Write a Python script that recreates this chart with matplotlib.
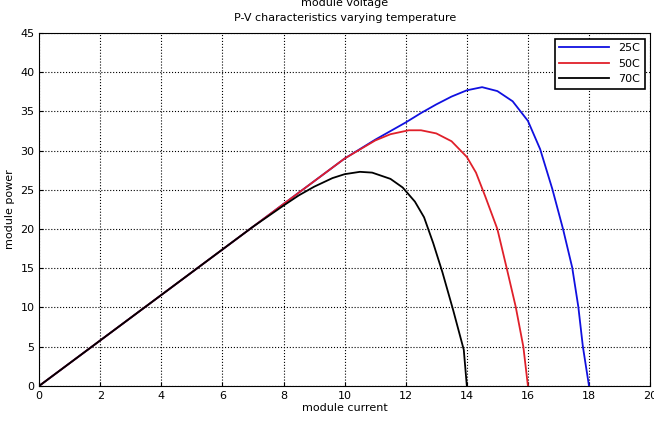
import matplotlib
matplotlib.use("Agg")
import matplotlib.pyplot as plt

# module "current" axis (really voltage) and power for each temperature
V_25C = [0, 2, 4, 6, 8, 10, 10.5, 11, 12, 12.5, 13, 13.5, 14, 14.5, 15,
         15.5, 16, 16.4, 16.8, 17.15, 17.45, 17.65, 17.8, 18.0]
P_25C = [0, 5.8, 11.6, 17.4, 23.2, 29.0, 30.2, 31.4, 33.6, 34.8, 35.9, 36.9,
         37.7, 38.1, 37.6, 36.3, 33.8, 30.2, 25.1, 20.0, 15.1, 10.1, 5.0, 0]

V_50C = [0, 2, 4, 6, 8, 10, 11, 11.5, 12.1, 12.5, 13, 13.5, 14, 14.3, 14.6,
         15.0, 15.3, 15.6, 15.85, 16.0]
P_50C = [0, 5.8, 11.6, 17.4, 23.2, 29.0, 31.3, 32.1, 32.6, 32.6, 32.2, 31.2,
         29.2, 27.2, 24.2, 20.0, 15.1, 10.1, 5.0, 0]

V_70C = [0, 2, 4, 6, 7, 8, 8.5, 9, 9.6, 10, 10.5, 10.9, 11.5, 11.9, 12.3,
         12.6, 12.9, 13.2, 13.55, 13.9, 14.0]
P_70C = [0, 5.8, 11.6, 17.4, 20.3, 23.0, 24.3, 25.4, 26.5, 27.0, 27.3, 27.2,
         26.4, 25.3, 23.5, 21.5, 18.2, 14.5, 9.7, 4.6, 0]

X_TICKS = list(range(0, 21, 2))
Y_TICKS = list(range(0, 46, 5))

fig = plt.figure(figsize=(6.54, 4.24), dpi=100)
ax = fig.add_axes([0.060, 0.090, 0.934, 0.832])

ax.plot(V_25C, P_25C, color="#1010e0", linewidth=1.3, label="25C")
ax.plot(V_50C, P_50C, color="#e0202a", linewidth=1.3, label="50C")
ax.plot(V_70C, P_70C, color="black", linewidth=1.3, label="70C")

ax.set_xlim(0, 20)
ax.set_ylim(0, 45)
ax.set_xticks(X_TICKS)
ax.set_yticks(Y_TICKS)
ax.tick_params(labelsize=8, direction="in", length=3, color="black")
ax.grid(True, color="black", linestyle=":", linewidth=0.8)
for spine in ax.spines.values():
    spine.set_linewidth(0.8)

ax.set_xlabel("module current", fontsize=8, labelpad=2)
ax.set_ylabel("module power", fontsize=8, labelpad=4)
fig.text(0.527, 0.994, "module voltage", ha="center", va="center", fontsize=8)
fig.text(0.527, 0.957, "P-V characteristics varying temperature",
         ha="center", va="center", fontsize=8)

leg = ax.legend(loc="upper right", fontsize=8, handlelength=4.5,
                fancybox=False, framealpha=1, edgecolor="black",
                borderaxespad=0.5)
leg.get_frame().set_linewidth(1.2)

fig.savefig("out.png", dpi=100)
